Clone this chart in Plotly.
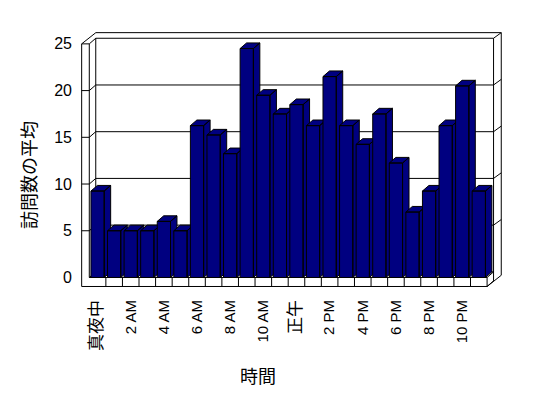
import plotly.graph_objects as go

# ---------------- data ----------------
hours = list(range(24))
avg_visits = [9.25, 5, 5, 5, 6, 5, 16.25, 15.25, 13.25, 24.5, 19.5, 17.5,
              18.5, 16.25, 21.5, 16.25, 14.25, 17.5, 12.25, 7, 9.25, 16.25, 20.5, 9.25]
tick_hours = list(range(0, 24, 2))
tick_labels = ["真夜中", "2 AM", "4 AM", "6 AM", "8 AM", "10 AM",
               "正午", "2 PM", "4 PM", "6 PM", "8 PM", "10 PM"]
y_ticks = [0, 5, 10, 15, 20, 25]
x_title = "時間"
y_title = "訪問数の平均"

# ---------------- pseudo-3D geometry (data units) ----------------
HALF = 0.4            # half bar width
DX, DY = 0.39, 0.6    # depth offset of floor / bars
LEFT_T = 0.46         # left wall thickness
FLOOR_T = 0.965       # floor thickness
BT_X, BT_Y = 0.465, 0.6  # back wall thickness
X_LO, X_HI = -0.5, 23.5
YMAX = 25

NAVY = "#000080"
FONT = "Liberation Sans, Arial, 'Noto Sans CJK JP', sans-serif"

fig = go.Figure()

# frame lines
segs = []
def seg(*pts):
    segs.append(pts)

# left wall front face + floor front strip
seg((X_LO - LEFT_T, -FLOOR_T), (X_LO - LEFT_T, YMAX), (X_LO, YMAX), (X_LO, 0), (X_HI, 0),
    (X_HI, -FLOOR_T), (X_LO - LEFT_T, -FLOOR_T))
# outer contour (top and right)
seg((X_LO - LEFT_T, YMAX), (X_LO - LEFT_T + DX + BT_X, YMAX + DY + BT_Y),
    (X_HI + DX + BT_X, YMAX + DY + BT_Y), (X_HI + DX + BT_X, -FLOOR_T + DY + BT_Y),
    (X_HI, -FLOOR_T))
# inner top edge of walls
seg((X_LO, YMAX), (X_LO + DX, YMAX + DY), (X_HI + DX, YMAX + DY),
    (X_HI + DX + BT_X, YMAX + DY + BT_Y))
# back wall inner vertical edges
seg((X_LO + DX, DY), (X_LO + DX, YMAX + DY))
seg((X_HI + DX, DY - FLOOR_T), (X_HI + DX, YMAX + DY))
# floor back edge and right edges
seg((X_LO, 0), (X_LO + DX, DY), (X_HI + DX, DY))
seg((X_HI, 0), (X_HI + DX, DY))
seg((X_HI, -FLOOR_T), (X_HI + DX, DY - FLOOR_T))
# gridlines on walls
for v in y_ticks[1:-1]:
    seg((X_LO - LEFT_T, v), (X_LO, v), (X_LO + DX, v + DY), (X_HI + DX, v + DY),
        (X_HI + DX + BT_X, v + DY + BT_Y))
# category tick marks on floor front strip
for k in range(1, 24):
    seg((k - 0.5, -FLOOR_T), (k - 0.5, 0))

fx, fy = [], []
for s in segs:
    for (a, b) in s:
        fx.append(a)
        fy.append(b)
    fx.append(None)
    fy.append(None)

fig.add_trace(go.Scatter(x=fx, y=fy, mode="lines", line=dict(color="black", width=1),
                         hoverinfo="skip", showlegend=False))

# bars: front, top and side faces, painted left to right
for h, v in zip(hours, avg_visits):
    xl, xr = h - HALF, h + HALF
    px = [xl, xr, xr, xl, xl, None,
          xl, xr, xr + DX, xl + DX, xl, None,
          xr, xr + DX, xr + DX, xr, xr]
    py = [0, 0, v, v, 0, None,
          v, v, v + DY, v + DY, v, None,
          0, DY, v + DY, v, 0]
    fig.add_trace(go.Scatter(x=px, y=py, mode="lines", fill="toself", fillcolor=NAVY,
                             line=dict(color="black", width=1), showlegend=False,
                             hoverinfo="text", text=f"{h}: {v}"))

def fmt(t):
    if any(ord(c) > 127 for c in t):
        return f"<span style='font-size:17px;color:#000000'>{t}</span>"
    return t

W, H = 548, 398
L, R, T, B = 81, 46, 32, 111
PW, PH = W - L - R, H - T - B

fig.update_layout(
    width=W, height=H,
    margin=dict(l=L, r=R, t=T, b=B, pad=0),
    paper_bgcolor="white", plot_bgcolor="white",
    font=dict(family=FONT, color="black", size=14),
    showlegend=False,
    xaxis=dict(range=[-1.0, 24.4], showgrid=False, zeroline=False, showline=False,
               tickmode="array", tickvals=tick_hours, ticktext=[fmt(t) for t in tick_labels],
               tickangle=-90, ticks="", ticklabelstandoff=9,
               tickfont=dict(size=15, family=FONT, color="black")),
    yaxis=dict(range=[-1.02, 26.27], showgrid=False, zeroline=False, showline=False,
               tickmode="array", tickvals=y_ticks, ticktext=[str(t) for t in y_ticks],
               ticks="", ticklabelstandoff=8,
               tickfont=dict(size=16, family=FONT, color="black")),
    annotations=[
        dict(text=x_title, xref="paper", yref="paper",
             x=(258 - L) / PW, y=(H - B - 377) / PH, showarrow=False,
             xanchor="center", yanchor="middle", font=dict(size=18, family=FONT)),
        dict(text=y_title, xref="paper", yref="paper",
             x=(30 - L) / PW, y=(H - B - 175) / PH, showarrow=False, textangle=-90,
             xanchor="center", yanchor="middle", font=dict(size=18, family=FONT)),
    ],
)

fig.write_html("out.html", config={"displayModeBar": False},
               post_script="document.body.style.margin='0';")
